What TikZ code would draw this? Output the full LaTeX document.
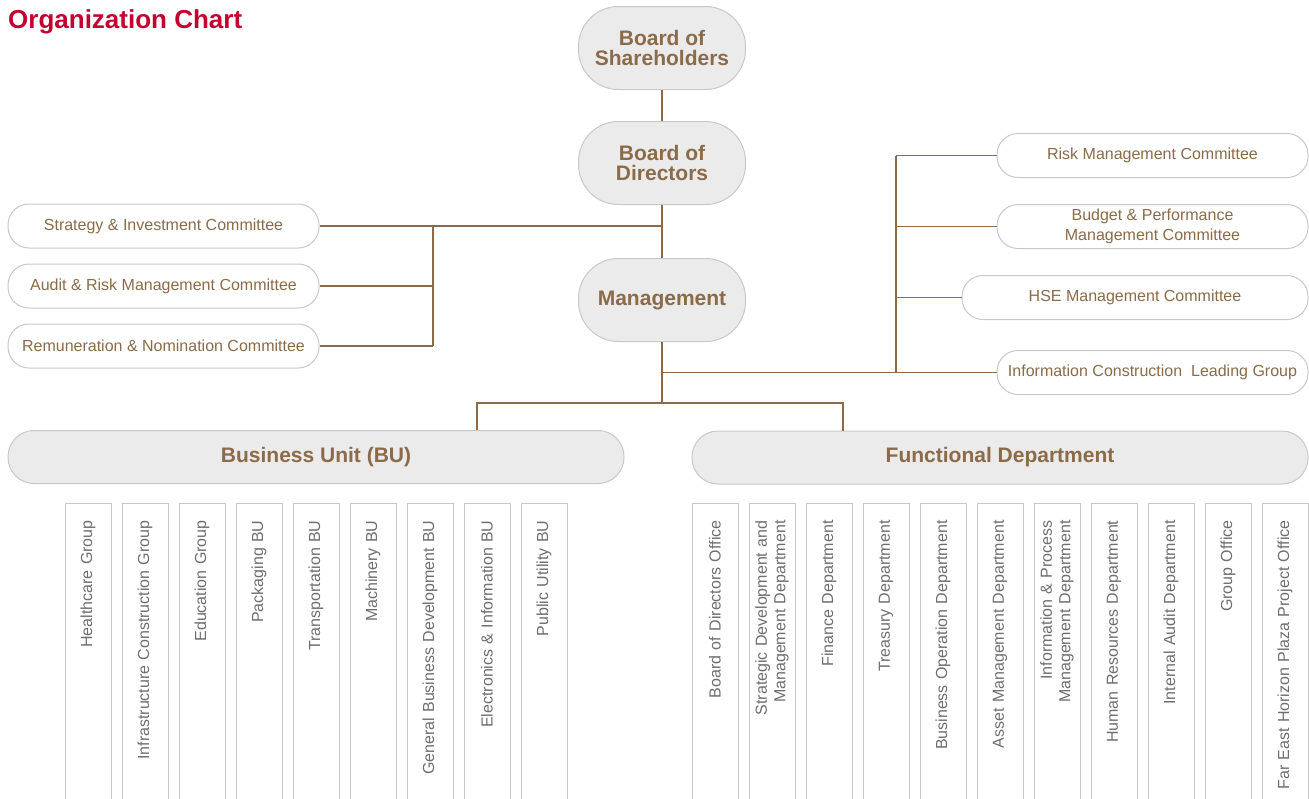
\documentclass[tikz,border=0pt]{standalone}
\usepackage{fontspec}
\setmainfont{Liberation Sans}
\definecolor{chartbrown}{HTML}{8B6B48}
\definecolor{chartred}{HTML}{C4002F}
\definecolor{boxgray}{HTML}{EBEBEB}
\definecolor{rimgray}{HTML}{C8C8C8}
\definecolor{deptgray}{HTML}{6E6E6E}

\begin{document}
\begin{tikzpicture}[%
  x=1pt, y=-1pt,
  line/.style = {draw=chartbrown, line width=1.2pt},
  title/.style = {text=chartred, font=\fontsize{26}{30}\selectfont\bfseries, inner sep=0pt},
  board/.style = {draw=rimgray, fill=boxgray, line width=1pt, rounded corners=40pt,
    minimum width=167pt, minimum height=83pt, align=center, text=chartbrown,
    font=\fontsize{21}{20}\selectfont\bfseries},
  committee/.style = {draw=rimgray, fill=white, line width=1pt, rounded corners=21pt,
    minimum width=311pt, minimum height=44pt, align=center, text=chartbrown,
    font=\fontsize{16}{20}\selectfont},
  branch/.style = {draw=rimgray, fill=boxgray, line width=1pt, rounded corners=26pt,
    minimum width=616pt, minimum height=53pt, text=chartbrown,
    font=\fontsize{21}{24}\selectfont\bfseries},
  unitbox/.style = {draw=rimgray, line width=1pt, rotate=90, anchor=east,
    text width=290pt, inner xsep=17pt, inner ysep=0pt, minimum height=46pt,
    align=right, text=deptgray, font=\fontsize{16}{18.5}\selectfont},
]
  \useasboundingbox (0,0) rectangle (1309,798);
  \clip (0,0) rectangle (1309,798);

  \node[title, anchor=base west] (title) at (8,28) {Organization Chart};

  \node[board] (bos) at (662,48) {Board of\\Shareholders};
  \node[board] (bod) at (662,163) {Board of\\Directors};
  \node[board] (mgmt) at (662,300) {Management};

  \node[committee] (sic) at (163.5,226) {Strategy \& Investment Committee};
  \node[committee] (arc) at (163.5,286) {Audit \& Risk Management Committee};
  \node[committee] (rnc) at (163.5,346) {Remuneration \& Nomination Committee};

  \node[committee] (rmc) at (1152.5,155.5) {Risk Management Committee};
  \node[committee] (bpc) at (1152.5,226.5) {Budget \& Performance\\Management Committee};
  \node[committee, minimum width=346pt] (hse) at (1135,297.5) {HSE Management Committee};
  \node[committee] (icg) at (1152.5,372.5) {Information Construction\ \ Leading Group};

  \node[branch] (bu) at (316,457) {Business Unit (BU)};
  \node[branch] (fd) at (1000,457.5) {Functional Department};

  \node[unitbox] (hg) at (88,503) {Healthcare Group};
  \node[unitbox] (icgp) at (145,503) {Infrastructure Construction Group};
  \node[unitbox] (eg) at (202,503) {Education Group};
  \node[unitbox] (pbu) at (259,503) {Packaging BU};
  \node[unitbox] (tbu) at (316,503) {Transportation BU};
  \node[unitbox] (mbu) at (373,503) {Machinery BU};
  \node[unitbox] (gbd) at (430,503) {General Business Development BU};
  \node[unitbox] (eibu) at (487,503) {Electronics \& Information BU};
  \node[unitbox] (pubu) at (544,503) {Public Utility BU};

  \node[unitbox] (bdo) at (715,503) {Board of Directors Office};
  \node[unitbox] (sdm) at (772,503) {Strategic Development and\\Management Department};
  \node[unitbox] (fin) at (829,503) {Finance Department};
  \node[unitbox] (tre) at (886,503) {Treasury Department};
  \node[unitbox] (bop) at (943,503) {Business Operation Department};
  \node[unitbox] (amd) at (1000,503) {Asset Management Department};
  \node[unitbox] (ipm) at (1057,503) {Information \& Process\\Management Department};
  \node[unitbox] (hrd) at (1114,503) {Human Resources Department};
  \node[unitbox] (iad) at (1171,503) {Internal Audit Department};
  \node[unitbox] (gof) at (1228,503) {Group Office};
  \node[unitbox] (feh) at (1285,503) {Far East Horizon Plaza Project Office};

  \coordinate (lbus) at (433,226);
  \coordinate (rbus) at (896,372.5);
  \coordinate (split) at (662,403);
  \coordinate (bujoin) at (477,403);
  \coordinate (fdjoin) at (843,403);

  \draw[line] (bos) -- (bod);
  \draw[line] (bod) -- (mgmt);
  \draw[line] (mgmt) -- (split);

  \draw[line] (sic.east) -- (sic.east -| mgmt.north);
  \draw[line] (lbus) -- (rnc.east -| lbus);
  \draw[line] (arc.east) -- (arc.east -| lbus);
  \draw[line] (rnc.east) -- (rnc.east -| lbus);

  \draw[line] (icg.west) -- (icg.west -| mgmt.south);
  \draw[line] (rmc.west -| rbus) -- (rbus);
  \draw[line] (rmc.west) -- (rmc.west -| rbus);
  \draw[line] (bpc.west) -- (bpc.west -| rbus);
  \draw[line] (hse.west) -- (hse.west -| rbus);

  \draw[line] (bu.north -| bujoin) -- (bujoin) -- (fdjoin) -- (fd.north -| fdjoin);

\end{tikzpicture}
\end{document}
